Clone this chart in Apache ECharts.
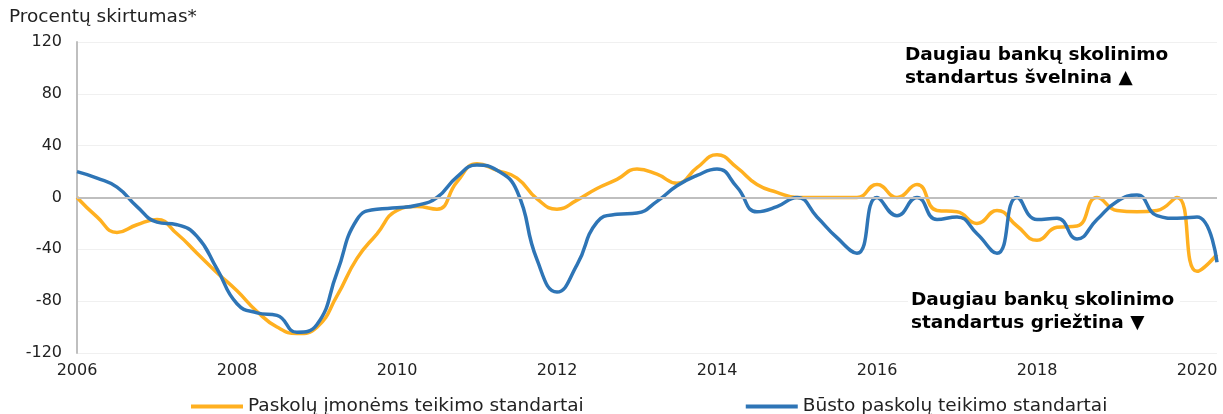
<!DOCTYPE html>
<html>
<head>
<meta charset="utf-8">
<script src="https://cdn.jsdelivr.net/npm/echarts@6/dist/echarts.min.js"></script>
<style>
  html, body { margin: 0; padding: 0; background: #fff; }
  #chart { width: 1223px; height: 414px; }
</style>
</head>
<body>
<div id="chart"></div>
<script>
// ketvirčiai 2006 Q1 – 2020 Q2
const quarters = [];
for (let y = 2006; y <= 2020; y++) {
  for (let q = 1; q <= 4; q++) {
    if (y === 2020 && q > 2) break;
    quarters.push(y + ' Q' + q);
  }
}

const imonems = [
  0, -15, -27, -21, -17, -28, -43, -58, -72, -88,
  -100, -105, -100, -76, -47, -28, -10, -7, -9, 12,
  26, 21, 15, -1, -9, -2, 7, 14, 22, 18,
  11, 23, 33, 23, 10, 4, 0, 0, 0, 0,
  10, 0, 10, -10, -11, -20, -10, -22, -33, -23,
  -22, 0, -10, -11, -10, 0, -57, -44
];

const busto = [
  20, 15, 8, -7, -19, -21, -30, -55, -82, -89,
  -91, -104, -98, -58, -17, -9, -8, -6, 0, 16,
  25, 21, 5, -48, -73, -52, -19, -13, -12, -3,
  9, 17, 22, 8, -11, -7, 0, -15, -31, -43,
  0, -14, 0, -17, -15, -28, -43, 0, -17, -16,
  -32, -17, -3, 2, -14, -16, -15, -50
];

const yTicks = { min: -120, max: 120, interval: 40 };

const font = 'DejaVu Sans, Verdana, sans-serif';
const boldFont = 'bold 18.5px ' + font;
const chart = echarts.init(document.getElementById('chart'));

function label(x, y, text) {
  return {
    type: 'text', x: x, y: y, z: 10,
    style: { text: text, font: boldFont, fill: '#000', verticalAlign: 'top' }
  };
}

chart.setOption({
  animation: false,
  textStyle: { fontFamily: font },
  title: {
    text: 'Procentų skirtumas*',
    left: 4,
    top: 3,
    textStyle: { fontFamily: font, fontSize: 18.5, fontWeight: 'normal', color: '#222' }
  },
  grid: { left: 77, right: 6, top: 42, bottom: 61 },
  xAxis: {
    type: 'category',
    data: quarters,
    boundaryGap: false,
    axisLine: { show: false },
    axisTick: { show: false },
    splitLine: { show: false },
    axisLabel: {
      interval: (idx) => idx % 8 === 0,
      formatter: (v) => v.slice(0, 4),
      fontSize: 16,
      color: '#222',
      margin: 10
    }
  },
  yAxis: {
    type: 'value',
    min: yTicks.min,
    max: yTicks.max,
    interval: yTicks.interval,
    axisLine: { show: true, lineStyle: { color: '#bfbfbf', width: 2 } },
    axisTick: { show: false },
    splitLine: { lineStyle: { color: '#f0f0f0', width: 1 } },
    axisLabel: { fontSize: 16, color: '#222', margin: 15 }
  },
  legend: {
    top: 392,
    left: 186,
    icon: 'rect',
    itemWidth: 52,
    itemHeight: 4,
    itemGap: 162,
    textStyle: { fontSize: 18.5, color: '#222', fontFamily: font },
    data: ['Paskolų įmonėms teikimo standartai', 'Būsto paskolų teikimo standartai']
  },
  graphic: [
    label(905, 46, 'Daugiau bankų skolinimo'),
    label(905, 69, 'standartus švelnina ▲'),
    {
      type: 'rect', z: 9,
      shape: { x: 908, y: 292, width: 272, height: 18 },
      style: { fill: '#fff' }
    },
    label(911, 291, 'Daugiau bankų skolinimo'),
    label(911, 314, 'standartus griežtina ▼')
  ],
  series: [
    {
      name: 'Paskolų įmonėms teikimo standartai',
      type: 'line',
      data: imonems,
      smooth: 0.5,
      symbol: 'none',
      lineStyle: { color: '#FFB020', width: 3.5 },
      itemStyle: { color: '#FFB020' },
      markLine: {
        silent: true,
        symbol: 'none',
        label: { show: false },
        lineStyle: { color: '#bfbfbf', width: 2, type: 'solid' },
        data: [{ yAxis: 0 }]
      },
      z: 3
    },
    {
      name: 'Būsto paskolų teikimo standartai',
      type: 'line',
      data: busto,
      smooth: 0.5,
      symbol: 'none',
      lineStyle: { color: '#2E75B6', width: 3.5 },
      itemStyle: { color: '#2E75B6' },
      z: 4
    }
  ]
});
</script>
</body>
</html>
